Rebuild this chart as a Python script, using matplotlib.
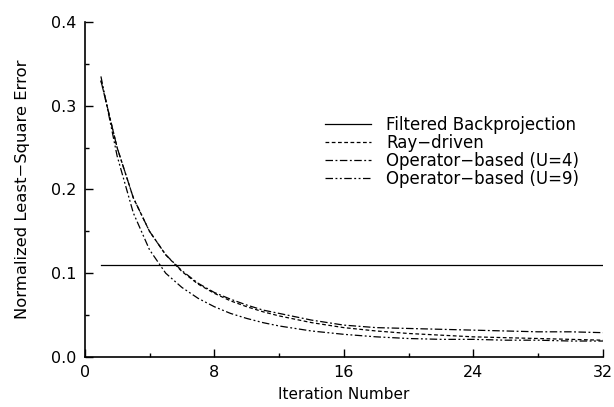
import matplotlib
matplotlib.use("Agg")
import matplotlib.pyplot as plt
from matplotlib.ticker import MultipleLocator, FormatStrFormatter

iterations = [1, 2, 3, 4, 5, 6, 7, 8, 9, 10, 11, 12, 13, 14, 15, 16, 18, 20, 22, 24, 26, 28, 30, 32]
fbp_x = [1, 32]
fbp_y = [0.110, 0.110]
ray_driven = [0.330, 0.250, 0.190, 0.150, 0.122, 0.102, 0.087, 0.076, 0.067, 0.060, 0.054, 0.049,
              0.045, 0.041, 0.038, 0.035, 0.031, 0.028, 0.026, 0.024, 0.023, 0.022, 0.021, 0.020]
op_u4 = [0.330, 0.250, 0.190, 0.150, 0.122, 0.103, 0.088, 0.077, 0.069, 0.062, 0.056, 0.052,
         0.048, 0.044, 0.041, 0.038, 0.035, 0.034, 0.033, 0.032, 0.031, 0.030, 0.030, 0.029]
op_u9 = [0.335, 0.240, 0.172, 0.128, 0.100, 0.083, 0.070, 0.060, 0.052, 0.046, 0.041, 0.037,
         0.034, 0.031, 0.029, 0.027, 0.024, 0.022, 0.021, 0.021, 0.020, 0.020, 0.019, 0.019]
labels = ["Filtered Backprojection", "Ray\u2212driven", "Operator\u2212based (U=4)", "Operator\u2212based (U=9)"]

plt.rcParams['font.family'] = ['DejaVu Sans']
fig = plt.figure(figsize=(6.14, 4.07), dpi=100)
ax = fig.add_axes([0.138, 0.123, 0.844, 0.823])
lw = 0.9
ax.plot(fbp_x, fbp_y, color='black', lw=lw, label=labels[0])
ax.plot(iterations, ray_driven, color='black', lw=lw, dashes=(3, 2), label=labels[1])
ax.plot(iterations, op_u4, color='black', lw=lw, dashes=(6, 2, 1.5, 2), label=labels[2])
ax.plot(iterations, op_u9, color='black', lw=lw, dashes=(6, 2, 1.5, 2, 1.5, 2), label=labels[3])

ax.set_xlim(0, 32)
ax.set_ylim(0, 0.4)
ax.xaxis.set_major_locator(MultipleLocator(8))
ax.xaxis.set_minor_locator(MultipleLocator(4))
ax.yaxis.set_major_locator(MultipleLocator(0.1))
ax.yaxis.set_minor_locator(MultipleLocator(0.05))
ax.yaxis.set_major_formatter(FormatStrFormatter('%.1f'))
ax.spines['top'].set_visible(False)
ax.spines['right'].set_visible(False)
ax.spines['left'].set_linewidth(1.2)
ax.spines['bottom'].set_linewidth(1.2)
ax.tick_params(which='major', direction='in', length=6, width=1, labelsize=11.5, pad=6)
ax.tick_params(which='minor', direction='in', length=3, width=1)
ax.set_xlabel("Iteration Number", fontsize=11, labelpad=5)
ax.set_ylabel("Normalized Least\u2212Square Error", fontsize=11.8, labelpad=15)

leg = ax.legend(loc='upper left', bbox_to_anchor=(0.463, 0.72), frameon=False, fontsize=12,
                handlelength=2.8, handletextpad=0.9, labelspacing=0.0, borderaxespad=0,
                borderpad=0)
fig.savefig("out.png", dpi=100)
